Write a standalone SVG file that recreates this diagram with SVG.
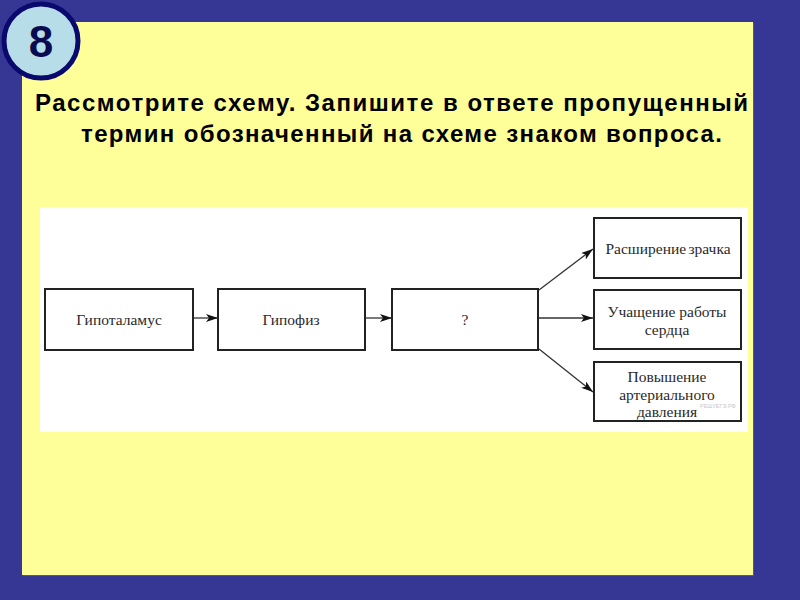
<svg xmlns="http://www.w3.org/2000/svg" width="800" height="600" viewBox="0 0 800 600">
<style>
.title{font-family:"Liberation Sans",Arial,sans-serif;font-weight:bold;font-size:24px;fill:#000}
.box{fill:#fff;stroke:#222;stroke-width:2}
.lbl{font-family:"Liberation Serif","Times New Roman",serif;font-size:15.5px;fill:#2a2a2a;text-anchor:middle}
.conn{stroke:#333;stroke-width:1.3;fill:none;marker-end:url(#ah)}
</style>
<defs>
<marker id="ah" viewBox="0 0 12 8" refX="12" refY="4" markerWidth="12" markerHeight="8" markerUnits="userSpaceOnUse" orient="auto">
<path d="M0,0 L12,4 L0,8 L3,4 Z" fill="#111"/>
</marker>
</defs>
<rect x="0" y="0" width="800" height="600" fill="#363795"/>
<rect x="23" y="23" width="731" height="553" fill="#5a5a6a"/>
<rect x="22" y="22" width="731" height="553" fill="#FFFF99"/>
<g id="badge">
<circle cx="41" cy="41" r="37" fill="#B7DDE8" stroke="#0A0A6E" stroke-width="5"/>
<text x="41" y="57" font-family="Liberation Sans,Arial,sans-serif" font-weight="bold" font-size="44" fill="#0A0A50" text-anchor="middle">8</text>
</g>
<text class="title" x="35" y="110.5" textLength="713" lengthAdjust="spacing">Рассмотрите схему. Запишите в ответе пропущенный</text>
<text class="title" x="81" y="141.5" textLength="641" lengthAdjust="spacing">термин обозначенный на схеме знаком вопроса.</text>
<rect x="40" y="207" width="708" height="225" fill="#fff"/>
<g id="connectors">
<line class="conn" x1="193" y1="318" x2="218" y2="318"/>
<line class="conn" x1="365" y1="318" x2="392" y2="318"/>
<line class="conn" x1="539" y1="290" x2="593" y2="249"/>
<line class="conn" x1="539" y1="318" x2="593" y2="318"/>
<line class="conn" x1="539" y1="349" x2="593" y2="392"/>
</g>
<g id="n1"><rect class="box" x="45" y="289" width="148" height="61"/><text class="lbl" x="119" y="325">Гипоталамус</text></g>
<g id="n2"><rect class="box" x="218" y="289" width="147" height="61"/><text class="lbl" x="291" y="325">Гипофиз</text></g>
<g id="n3"><rect class="box" x="392" y="289" width="146" height="61"/><text class="lbl" x="465" y="325">?</text></g>
<g id="n4"><rect class="box" x="594" y="218" width="147" height="60"/><text class="lbl" x="668" y="254" word-spacing="-1.5">Расширение зрачка</text></g>
<g id="n5"><rect class="box" x="594" y="290" width="147" height="59"/><text class="lbl" x="667" y="317">Учащение работы</text><text class="lbl" x="667" y="335">сердца</text></g>
<g id="n6"><rect class="box" x="594" y="362" width="147" height="59"/><text class="lbl" x="667" y="382">Повышение</text><text class="lbl" x="667" y="400">артериального</text><text class="lbl" x="667" y="417">давления</text></g>
<text x="700" y="408" font-family="Liberation Sans,Arial,sans-serif" font-size="5.5" fill="#c8c8c8">РЕШУЕГЭ.РФ</text>
</svg>
